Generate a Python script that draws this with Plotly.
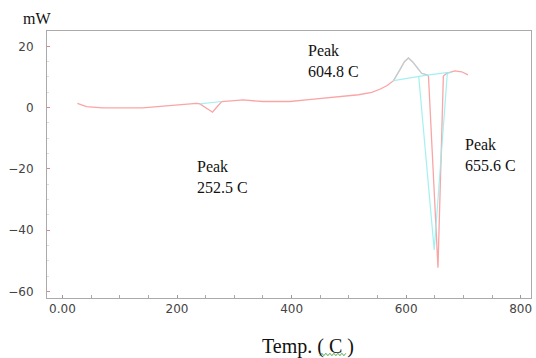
import plotly.graph_objects as go

# DSC curve (red)
temp_red = [26, 42, 70, 106, 140, 176, 210, 234, 240, 250, 262, 270, 278, 300, 315, 350, 397,
            430, 458, 490, 517, 540, 554, 567, 578, 589, 597, 604, 611, 618, 627, 636, 639,
            655.6, 665, 671, 685, 697, 708]
mw_red = [1.4, 0.3, -0.1, 0.0, -0.1, 0.5, 1.0, 1.4, 1.2, 0.1, -1.5, 0.3, 2.0, 2.3, 2.5, 2.0, 2.0,
          2.6, 3.1, 3.6, 4.2, 5.0, 6.0, 7.2, 8.8, 12.3, 15.0, 16.2, 15.0, 13.4, 11.2, 10.7, 10.3,
          -52.2, 10.3, 11.2, 12.0, 11.7, 10.7]

# Baselines / peak construction (cyan)
base1_t = [240, 278]
base1_v = [1.2, 2.0]
base2_t = [578, 636, 671, 680]
base2_v = [8.8, 10.6, 11.4, 11.5]
dip_t = [622, 649, 672]
dip_v = [10.2, -46.4, 11.4]

peak_labels = ["Peak<br>604.8 C", "Peak<br>252.5 C", "Peak<br>655.6 C"]
peak_label_x = [425, 232, 699]
peak_label_y = [15.2, -22.6, -15.3]

x_tickvals = [0, 200, 400, 600, 800]
x_ticktext = ["0.00", "200", "400", "600", "800"]
y_tickvals = [20, 0, -20, -40, -60]

RED = "rgb(249,165,165)"
CYAN = "rgb(150,238,238)"

fig = go.Figure()
fig.add_trace(go.Scatter(x=temp_red, y=mw_red, mode="lines",
                         line=dict(color=RED, width=1.3), showlegend=False))
# cyan overlay on exothermic peak
i0 = temp_red.index(578)
i1 = temp_red.index(636)
fig.add_trace(go.Scatter(x=temp_red[i0:i1 + 1], y=mw_red[i0:i1 + 1], mode="lines",
                         line=dict(color=CYAN, width=1.2), opacity=0.6, showlegend=False))
for tx, ty in [(base1_t, base1_v), (base2_t, base2_v), (dip_t, dip_v)]:
    fig.add_trace(go.Scatter(x=tx, y=ty, mode="lines",
                             line=dict(color=CYAN, width=1.2), opacity=0.85, showlegend=False))

for txt, lx, ly in zip(peak_labels, peak_label_x, peak_label_y):
    fig.add_annotation(x=lx, y=ly, text=txt, showarrow=False, xanchor="left", yanchor="middle",
                       align="left", font=dict(family="Liberation Serif", size=16, color="#111"),
                       bgcolor="rgba(255,255,255,0.6)")

fig.add_annotation(xref="paper", yref="paper", x=-0.02, y=1.046, text="mW", showarrow=False,
                   xanchor="center", yanchor="middle",
                   font=dict(family="Liberation Serif", size=16, color="#111"))
fig.add_annotation(xref="paper", yref="paper", x=0.539, y=-0.18, text="Temp. ( C )",
                   showarrow=False, xanchor="center", yanchor="middle",
                   font=dict(family="Liberation Serif", size=20, color="#111"))

# green wavy spell-check underline under "C"
pts = []
x0p, x1p, yb = 320, 347, 354.5
n = 0
xx = x0p
while xx <= x1p:
    yy = yb + (1.2 if n % 2 == 0 else -1.2)
    pts.append(((xx - 47.3) / 483.7, (298 - yy) / 267))
    xx += 2
    n += 1
path = "M " + " L ".join(f"{a:.4f},{b:.4f}" for a, b in pts)
fig.add_shape(type="path", path=path, xref="paper", yref="paper",
              line=dict(color="rgb(80,170,80)", width=1))

fig.update_layout(
    width=536, height=358,
    margin=dict(l=47, r=5, t=31, b=60),
    paper_bgcolor="white", plot_bgcolor="white",
    xaxis=dict(range=[-27, 818], tickvals=x_tickvals, ticktext=x_ticktext,
               ticks="inside", ticklen=3, tickcolor="#999",
               minor=dict(dtick=50, ticks="inside", ticklen=3, tickcolor="#aaa"),
               showgrid=False, zeroline=False, showline=True, linecolor="#aaa",
               linewidth=1, mirror=True,
               tickfont=dict(family="DejaVu Sans", size=12, color="#444")),
    yaxis=dict(range=[-62.1, 25], tickvals=y_tickvals,
               ticks="inside", ticklen=3, tickcolor="#d88",
               minor=dict(dtick=5, ticks="inside", ticklen=2, tickcolor="#ddd"),
               showgrid=False, zeroline=False, showline=True, linecolor="#aaa",
               linewidth=1, mirror=True, ticklabelstandoff=10,
               tickfont=dict(family="DejaVu Sans", size=12, color="#444")),
)

fig.write_html("out.html")
